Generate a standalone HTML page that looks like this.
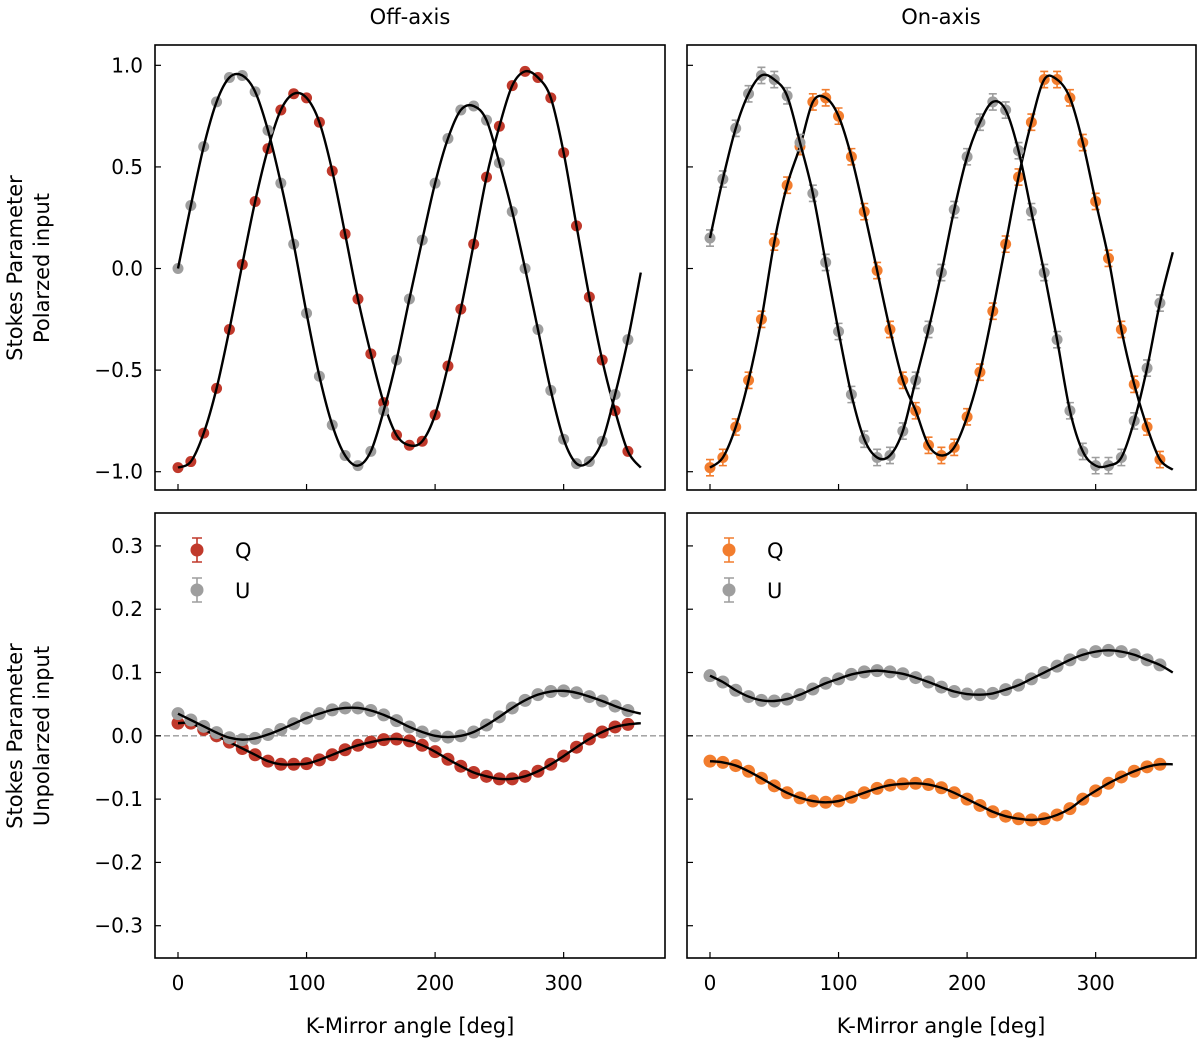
<!DOCTYPE html>
<html><head><meta charset="utf-8">
<style>
html,body{margin:0;padding:0;background:#fff;}
svg{display:block;font-family:"DejaVu Sans","Liberation Sans",sans-serif;}
</style></head>
<body>
<svg id="chart" width="1200" height="1043" viewBox="0 0 1200 1043" xmlns="http://www.w3.org/2000/svg">
<text x="410" y="24" font-size="21" text-anchor="middle">Off-axis</text>
<text x="941" y="24" font-size="21" text-anchor="middle">On-axis</text>
<text transform="translate(22,268) rotate(-90)" font-size="21" text-anchor="middle"><tspan x="0" dy="0">Stokes Parameter</tspan><tspan x="0" dy="27">Polarzed input</tspan></text>
<text transform="translate(22,736) rotate(-90)" font-size="21" text-anchor="middle"><tspan x="0" dy="0">Stokes Parameter</tspan><tspan x="0" dy="27">Unpolarzed input</tspan></text>
<text x="410" y="1033" font-size="21" text-anchor="middle">K-Mirror angle [deg]</text>
<text x="941" y="1033" font-size="21" text-anchor="middle">K-Mirror angle [deg]</text>
</svg>
<script>
const angles=[0,10,20,30,40,50,60,70,80,90,100,110,120,130,140,150,160,170,180,190,200,210,220,230,240,250,260,270,280,290,300,310,320,330,340,350];
const xTicks=[0,100,200,300];
const yTicksTop=[1.0,0.5,0.0,-0.5,-1.0];
const yTicksBottom=[0.3,0.2,0.1,0.0,-0.1,-0.2,-0.3];
const qOffTop=[-0.98,-0.95,-0.81,-0.59,-0.30,0.02,0.33,0.59,0.78,0.86,0.84,0.72,0.48,0.17,-0.15,-0.42,-0.66,-0.82,-0.87,-0.85,-0.72,-0.48,-0.20,0.12,0.45,0.70,0.90,0.97,0.94,0.84,0.57,0.21,-0.14,-0.45,-0.70,-0.90];
const uOffTop=[0.00,0.31,0.60,0.82,0.94,0.95,0.87,0.68,0.42,0.12,-0.22,-0.53,-0.77,-0.92,-0.97,-0.90,-0.70,-0.45,-0.15,0.14,0.42,0.64,0.78,0.80,0.73,0.52,0.28,0.00,-0.30,-0.60,-0.84,-0.96,-0.95,-0.85,-0.62,-0.35];
const qOnTop=[-0.98,-0.93,-0.78,-0.55,-0.25,0.13,0.41,0.60,0.82,0.84,0.75,0.55,0.28,-0.01,-0.30,-0.55,-0.70,-0.87,-0.92,-0.88,-0.73,-0.51,-0.21,0.12,0.45,0.72,0.93,0.93,0.84,0.62,0.33,0.05,-0.30,-0.57,-0.78,-0.94];
const uOnTop=[0.15,0.44,0.69,0.86,0.95,0.93,0.85,0.62,0.37,0.03,-0.31,-0.62,-0.84,-0.93,-0.92,-0.80,-0.55,-0.30,-0.02,0.29,0.55,0.72,0.82,0.78,0.58,0.28,-0.02,-0.35,-0.70,-0.90,-0.97,-0.97,-0.93,-0.75,-0.49,-0.17];
const qOffBot=[0.02,0.02,0.01,0.0,-0.01,-0.02,-0.03,-0.04,-0.045,-0.045,-0.044,-0.038,-0.03,-0.022,-0.015,-0.01,-0.006,-0.005,-0.008,-0.015,-0.025,-0.037,-0.048,-0.058,-0.064,-0.068,-0.068,-0.064,-0.056,-0.045,-0.032,-0.018,-0.005,0.006,0.014,0.018];
const uOffBot=[0.035,0.025,0.015,0.005,-0.003,-0.006,-0.004,0.002,0.01,0.019,0.028,0.035,0.041,0.044,0.044,0.04,0.033,0.024,0.014,0.006,0.0,-0.002,0.0,0.006,0.017,0.03,0.044,0.056,0.065,0.07,0.071,0.068,0.062,0.055,0.047,0.04];
const qOnBot=[-0.04,-0.042,-0.047,-0.056,-0.067,-0.079,-0.09,-0.098,-0.103,-0.105,-0.103,-0.097,-0.09,-0.083,-0.078,-0.076,-0.075,-0.077,-0.082,-0.09,-0.1,-0.11,-0.12,-0.127,-0.131,-0.133,-0.131,-0.125,-0.115,-0.1,-0.087,-0.075,-0.065,-0.056,-0.049,-0.045];
const uOnBot=[0.095,0.085,0.072,0.062,0.056,0.055,0.058,0.065,0.074,0.083,0.09,0.097,0.101,0.103,0.101,0.098,0.092,0.085,0.077,0.07,0.066,0.065,0.067,0.073,0.08,0.09,0.1,0.11,0.12,0.128,0.133,0.135,0.133,0.128,0.12,0.112];
const curveEnds=[-0.98,-0.02,-0.99,0.08,0.02,0.035,-0.045,0.1];

const NS="http://www.w3.org/2000/svg";
const svg=document.getElementById('chart');
function mk(tag,attrs,parent){const e=document.createElementNS(NS,tag);for(const k in attrs)e.setAttribute(k,attrs[k]);(parent||svg).appendChild(e);return e;}

const RED="#c0392b",ORANGE="#f27d2e",GRAY="#9e9e9e";
const panels=[
 {name:'off-top',x0:155,x1:665,y0:45,y1:490,ymin:-1.09,ymax:1.1,ticks:yTicksTop,labels:true,series:[[qOffTop,RED,0],[uOffTop,GRAY,1]],err:0.015,zero:false,legend:false,qc:RED},
 {name:'on-top',x0:687,x1:1196,y0:45,y1:490,ymin:-1.09,ymax:1.1,ticks:yTicksTop,labels:false,series:[[qOnTop,ORANGE,2],[uOnTop,GRAY,3]],err:0.04,zero:false,legend:false,qc:ORANGE},
 {name:'off-bottom',x0:155,x1:665,y0:513,y1:958,ymin:-0.351,ymax:0.352,ticks:yTicksBottom,labels:true,series:[[qOffBot,RED,4],[uOffBot,GRAY,5]],err:0.003,zero:true,legend:true,qc:RED},
 {name:'on-bottom',x0:687,x1:1196,y0:513,y1:958,ymin:-0.351,ymax:0.352,ticks:yTicksBottom,labels:false,series:[[qOnBot,ORANGE,6],[uOnBot,GRAY,7]],err:0.003,zero:true,legend:true,qc:ORANGE}
];
function fmt(v){const s=Math.abs(v).toFixed(1);return (v<0?'\u2212':'')+s;}
panels.forEach(p=>{
 const X=v=>p.x0+23+v*1.2855;
 const Y=v=>p.y1-(v-p.ymin)/(p.ymax-p.ymin)*(p.y1-p.y0);
 const g=mk('g',{});
 
 
 if(p.zero){const z=mk('line',{x1:p.x0,x2:p.x1,y1:Y(0),y2:Y(0),stroke:'#999','stroke-width':1.3,'stroke-dasharray':'6,3'},g);
  }
 xTicks.forEach(t=>{
  const tk=mk('line',{x1:X(t),x2:X(t),y1:p.y1,y2:p.y1-6,stroke:'#000','stroke-width':1.2},g);
  
  if(p.y0>500){const tl=mk('text',{x:X(t),y:p.y1+32,'font-size':20,'text-anchor':'middle'},g);tl.textContent=t;
   }
 });
 p.ticks.forEach(t=>{
  const tk=mk('line',{x1:p.x0,x2:p.x0+6,y1:Y(t),y2:Y(t),stroke:'#000','stroke-width':1.2},g);
  
  if(p.labels){const tl=mk('text',{x:p.x0-12,y:Y(t)+7,'font-size':20,'text-anchor':'end'},g);tl.textContent=fmt(t);
   }
 });
 p.series.forEach(([vals,col,ci],si)=>{
  vals.forEach((v,i)=>{
   const cx=X(angles[i]),cy=Y(v),e=Math.max(p.err*(p.y1-p.y0)/(p.ymax-p.ymin),2.5);
   const eb=mk('path',{d:`M${cx},${cy-e}V${cy+e}M${cx-4},${cy-e}H${cx+4}M${cx-4},${cy+e}H${cx+4}`,stroke:col,'stroke-width':1.6,fill:'none'},g);
   
   const c=mk('circle',{cx:cx,cy:cy,r:p.zero?6.5:5.5,fill:col},g);
   
  });
  const pts=vals.map((v,i)=>[X(angles[i]),Y(v)]);pts.push([X(360),Y(curveEnds[ci])]);
  let d=`M${pts[0][0]},${pts[0][1]}`;
  for(let i=0;i<pts.length-1;i++){
   const p0=pts[Math.max(i-1,0)],p1=pts[i],p2=pts[i+1],p3=pts[Math.min(i+2,pts.length-1)];
   d+=`C${p1[0]+(p2[0]-p0[0])/6},${p1[1]+(p2[1]-p0[1])/6} ${p2[0]-(p3[0]-p1[0])/6},${p2[1]-(p3[1]-p1[1])/6} ${p2[0]},${p2[1]}`;
  }
  const fl=mk('path',{d:d,stroke:'#000','stroke-width':2.4,fill:'none'},g);
  
 });
 if(p.legend){
  [['Q',p.qc,550],['U',GRAY,590]].forEach(([lab,col,ly])=>{
   const lx=p.x0+42;
   const lg=mk('g',{},g);
   
   mk('path',{d:`M${lx},${ly-12}V${ly+12}M${lx-5},${ly-12}H${lx+5}M${lx-5},${ly+12}H${lx+5}`,stroke:col,'stroke-width':1.6,fill:'none'},lg);
   mk('circle',{cx:lx,cy:ly,r:6.5,fill:col},lg);
   const t=mk('text',{x:lx+38,y:ly+8,'font-size':21},lg);t.textContent=lab;
  });
 }
 const fr=mk('rect',{x:p.x0,y:p.y0,width:p.x1-p.x0,height:p.y1-p.y0,fill:'none',stroke:'#000','stroke-width':1.6},g);
 
});
</script>
</body></html>
